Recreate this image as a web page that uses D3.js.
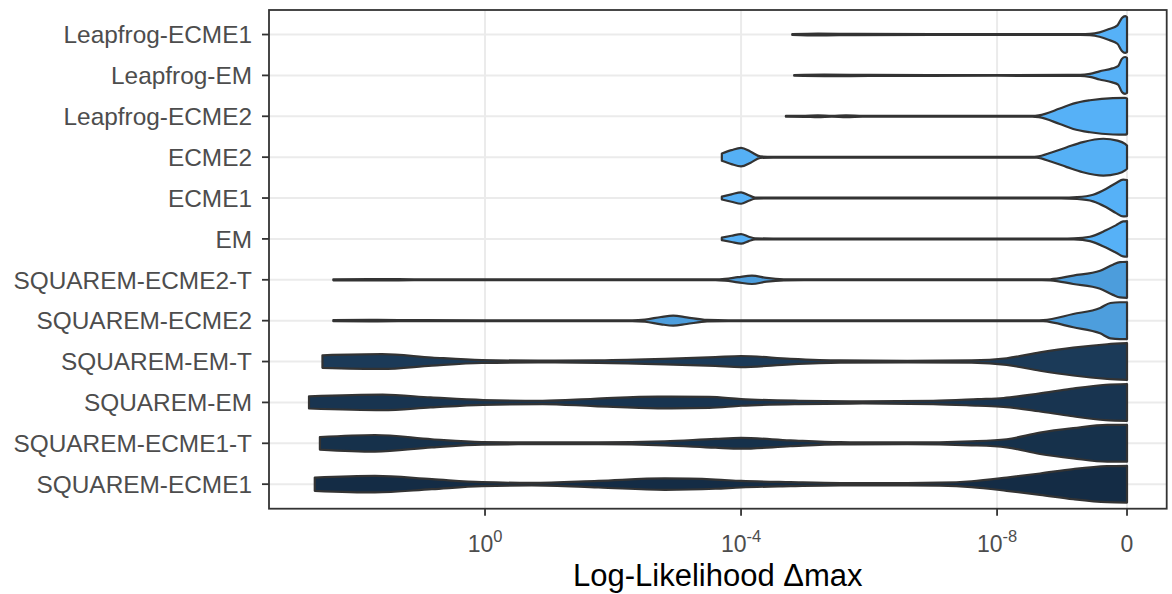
<!DOCTYPE html>
<html>
<head>
<meta charset="utf-8">
<script src="https://cdn.jsdelivr.net/npm/d3@7"></script>
<style>
  html, body { margin: 0; padding: 0; background: #ffffff; }
  svg { display: block; }
  text { font-family: "Liberation Sans", Arial, Helvetica, sans-serif; }
</style>
</head>
<body>
<svg id="chart" width="1172" height="594"></svg>
<script>
// Methods, listed top to bottom
const categories = [
  "Leapfrog-ECME1", "Leapfrog-EM", "Leapfrog-ECME2", "ECME2", "ECME1", "EM",
  "SQUAREM-ECME2-T", "SQUAREM-ECME2", "SQUAREM-EM-T", "SQUAREM-EM",
  "SQUAREM-ECME1-T", "SQUAREM-ECME1"
];

// Fill level per method (0 = darkest, 1 = lightest of the gradient)
const fillLevel = [1.0, 1.0, 1.0, 0.99, 1.0, 1.0, 0.86, 0.87, 0.13, 0.08, 0.05, 0.01];

// Violin profiles: [decades below the max (-log10 Δ), relative density width]
// "0" (exact max) sits at 10.03 decades on this axis.
const profLeapfrogECME1 = [[4.80,0.02],[5.2,0.05],[5.8,0.03],[7.0,0.02],[8.5,0.02],[9.3,0.025],[9.45,0.04],[9.6,0.12],[9.75,0.3],[9.88,0.5],[9.95,0.9],[10.0,1.0],[10.03,0.95]];
const profLeapfrogEM = [[4.83,0.02],[5.3,0.04],[6.0,0.03],[8.0,0.02],[9.3,0.025],[9.45,0.08],[9.6,0.22],[9.8,0.38],[9.89,0.5],[9.95,0.9],[10.0,1.0],[10.03,0.95]];
const profLeapfrogECME2 = [[4.70,0.02],[5.0,0.03],[5.2,0.05],[5.42,0.025],[5.64,0.05],[5.9,0.025],[6.5,0.02],[8.0,0.02],[8.55,0.02],[8.65,0.05],[8.98,0.42],[9.19,0.69],[9.45,0.87],[9.81,0.99],[10.0,1.0],[10.03,0.97]];
const profECME2 = [[3.70,0.2],[3.85,0.38],[4.0,0.5],[4.15,0.3],[4.3,0.04],[4.5,0.02],[8.55,0.02],[8.62,0.03],[8.85,0.25],[9.09,0.54],[9.34,0.82],[9.66,1.0],[9.88,0.9],[10.0,0.72],[10.03,0.63]];
const profECME1 = [[3.70,0.08],[3.85,0.2],[4.0,0.31],[4.12,0.15],[4.22,0.03],[4.5,0.02],[8.0,0.02],[9.0,0.02],[9.25,0.05],[9.5,0.18],[9.7,0.49],[9.86,0.82],[9.97,1.0],[10.03,0.98]];
const profEM = [[3.70,0.07],[3.85,0.17],[4.0,0.26],[4.12,0.12],[4.22,0.03],[4.5,0.02],[8.0,0.02],[9.0,0.02],[9.2,0.03],[9.45,0.12],[9.7,0.47],[9.86,0.75],[9.97,0.95],[10.03,0.97]];
const profSqECME2T = [[-2.37,0.03],[-1.8,0.04],[-1.0,0.025],[1.0,0.02],[3.6,0.02],[3.75,0.05],[3.95,0.14],[4.17,0.23],[4.4,0.1],[4.67,0.03],[5.0,0.02],[8.7,0.02],[8.83,0.03],[9.19,0.23],[9.61,0.49],[9.81,0.82],[9.92,0.96],[10.03,0.98]];
const profSqECME2 = [[-2.37,0.03],[-1.8,0.04],[-1.0,0.025],[1.0,0.02],[2.3,0.02],[2.5,0.06],[2.75,0.2],[2.94,0.27],[3.15,0.18],[3.47,0.04],[3.8,0.02],[8.6,0.02],[8.72,0.03],[9.19,0.36],[9.61,0.69],[9.77,0.96],[9.92,1.0],[10.03,1.0]];
const profSqEMT = [[-2.54,0.34],[-1.61,0.40],[-0.83,0.22],[-0.05,0.08],[0.83,0.05],[1.77,0.07],[2.81,0.15],[3.6,0.24],[4.0,0.3],[4.77,0.15],[5.55,0.06],[6.6,0.04],[7.6,0.06],[8.15,0.18],[8.67,0.5],[9.19,0.76],[9.72,0.94],[10.03,1.0]];
const profSqEM = [[-2.75,0.33],[-1.6,0.42],[-0.85,0.27],[-0.03,0.13],[0.9,0.09],[1.7,0.2],[2.7,0.32],[3.5,0.3],[4.0,0.18],[4.9,0.09],[5.9,0.06],[7.0,0.09],[7.7,0.18],[8.1,0.24],[8.65,0.48],[9.15,0.74],[9.7,0.96],[10.03,1.0]];
const profSqECME1T = [[-2.58,0.34],[-1.72,0.45],[-0.83,0.22],[-0.05,0.07],[0.73,0.05],[1.77,0.05],[2.81,0.11],[3.6,0.24],[4.0,0.29],[4.77,0.16],[5.55,0.06],[6.6,0.045],[7.6,0.11],[8.15,0.22],[8.67,0.58],[9.19,0.82],[9.72,1.0],[10.03,1.0]];
const profSqECME1 = [[-2.66,0.36],[-1.72,0.45],[-0.83,0.27],[-0.05,0.11],[0.73,0.07],[1.77,0.18],[2.81,0.31],[3.6,0.25],[4.0,0.18],[4.77,0.11],[5.55,0.06],[6.6,0.06],[7.1,0.08],[7.6,0.16],[8.15,0.36],[8.67,0.58],[9.19,0.82],[9.72,0.98],[10.03,1.0]];

const profiles = [
  profLeapfrogECME1, profLeapfrogEM, profLeapfrogECME2, profECME2, profECME1, profEM,
  profSqECME2T, profSqECME2, profSqEMT, profSqEM, profSqECME1T, profSqECME1
];

// x axis breaks (in decades) and their labels
const xTickValues = [0, 4, 8, 10.03];
const xTickBase = ["10", "10", "10", "0"];
const xTickExp = ["0", "-4", "-8", ""];
const xTitle = "Log-Likelihood \u0394max";

// ---- layout ----
const svg = d3.select("#chart");
const panel = { left: 269, right: 1166.7, top: 10, bottom: 508.7 };

const x = d3.scaleLinear().domain([-3.375, 10.65]).range([panel.left, panel.right]);
const y = d3.scalePoint().domain(categories).range([panel.top, panel.bottom]).padding(0.6);
const halfMax = y.step() * 0.45;

const fill = d3.scaleLinear().domain([0, 1])
  .range(["#132B43", "#56B1F7"]).interpolate(d3.interpolateLab);

svg.append("rect").attr("width", 1172).attr("height", 594).attr("fill", "#ffffff");

// grid
const grid = svg.append("g");
grid.selectAll("line.gx").data(xTickValues).join("line")
  .attr("x1", d => x(d)).attr("x2", d => x(d))
  .attr("y1", panel.top).attr("y2", panel.bottom)
  .attr("stroke", "#EBEBEB").attr("stroke-width", 2);
grid.selectAll("line.gy").data(categories).join("line")
  .attr("x1", panel.left).attr("x2", panel.right)
  .attr("y1", d => y(d)).attr("y2", d => y(d))
  .attr("stroke", "#EBEBEB").attr("stroke-width", 2);

// violins
const violins = svg.append("g");
categories.forEach((cat, i) => {
  const cy = y(cat);
  const area = d3.area()
    .curve(d3.curveMonotoneX)
    .x(d => x(d[0]))
    .y0(d => cy - d[1] * halfMax)
    .y1(d => cy + d[1] * halfMax);
  violins.append("path")
    .attr("d", area(profiles[i]))
    .attr("fill", fill(fillLevel[i]))
    .attr("stroke", "#333333")
    .attr("stroke-width", 2.2)
    .attr("stroke-linejoin", "round");
});

// panel border
svg.append("rect")
  .attr("x", panel.left).attr("y", panel.top)
  .attr("width", panel.right - panel.left).attr("height", panel.bottom - panel.top)
  .attr("fill", "none").attr("stroke", "#333333").attr("stroke-width", 1.8);

// y axis
const yAxis = svg.append("g");
yAxis.selectAll("line").data(categories).join("line")
  .attr("x1", panel.left - 7).attr("x2", panel.left)
  .attr("y1", d => y(d)).attr("y2", d => y(d))
  .attr("stroke", "#333333").attr("stroke-width", 1.8);
yAxis.selectAll("text").data(categories).join("text")
  .attr("x", panel.left - 17).attr("y", d => y(d))
  .attr("dy", "0.36em")
  .attr("text-anchor", "end")
  .attr("fill", "#4D4D4D")
  .attr("font-size", 24.4)
  .text(d => d);

// x axis
const xAxis = svg.append("g");
xAxis.selectAll("line").data(xTickValues).join("line")
  .attr("x1", d => x(d)).attr("x2", d => x(d))
  .attr("y1", panel.bottom).attr("y2", panel.bottom + 7)
  .attr("stroke", "#333333").attr("stroke-width", 1.8);
const xt = xAxis.selectAll("text").data(xTickValues).join("text")
  .attr("x", d => x(d)).attr("y", 552)
  .attr("text-anchor", "middle")
  .attr("fill", "#4D4D4D")
  .attr("font-size", 23);
xt.each(function(d, i) {
  const t = d3.select(this);
  t.append("tspan").text(xTickBase[i]);
  if (xTickExp[i]) {
    t.append("tspan").attr("dy", -10).attr("font-size", 16.5).text(xTickExp[i]);
  }
});

svg.append("text")
  .attr("x", (panel.left + panel.right) / 2).attr("y", 586)
  .attr("text-anchor", "middle")
  .attr("fill", "#000000")
  .attr("font-size", 31)
  .text(xTitle);
</script>
</body>
</html>
